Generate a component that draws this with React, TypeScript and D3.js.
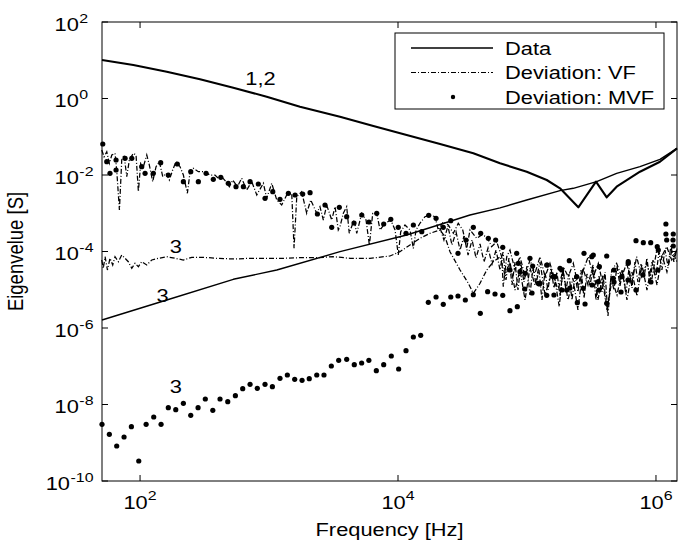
import * as d3 from 'd3';

// every pair is [log10 frequency (Hz), log10 eigenvalue (S)]
const data12: [number, number][] = [
  [1.705, 1.007], [1.948, 0.876], [2.207, 0.701], [2.465, 0.502], [2.723, 0.282],
  [2.982, 0.047], [3.24, -0.214], [3.55, -0.476], [3.809, -0.719], [4.067, -0.954],
  [4.326, -1.19], [4.584, -1.433], [4.791, -1.694], [4.998, -1.914], [5.153, -2.131],
  [5.256, -2.348], [5.398, -2.844], [5.535, -2.175], [5.618, -2.583], [5.695, -2.306],
  [5.876, -1.914], [6.031, -1.653], [6.163, -1.303],
];

const data3: [number, number][] = [
  [1.705, -5.791], [2.207, -5.268], [2.723, -4.727], [3.06, -4.484], [3.55, -4.005],
  [4.067, -3.569], [4.326, -3.294], [4.558, -3.046], [4.791, -2.858], [4.998, -2.654],
  [5.256, -2.41], [5.359, -2.348], [5.54, -2.175], [5.695, -1.956], [5.876, -1.783],
  [6.031, -1.59], [6.163, -1.303],
];

const vf12: [number, number][] = [
  [1.703, -1.346], [1.721, -1.522], [1.742, -1.391], [1.762, -1.694], [1.781, -1.477],
  [1.806, -1.433], [1.819, -1.869], [1.84, -2.915], [1.858, -1.608], [1.876, -1.477],
  [1.897, -2.044], [1.917, -1.608], [1.948, -1.433], [1.969, -1.477], [1.987, -2.437],
  [2.005, -1.694], [2.026, -1.783], [2.052, -1.477], [2.072, -1.739], [2.098, -2.175],
  [2.124, -1.783], [2.15, -1.652], [2.176, -2.044], [2.202, -1.956], [2.227, -2.131],
  [2.253, -1.869], [2.279, -1.652], [2.31, -1.783], [2.336, -2.0], [2.367, -2.478],
  [2.388, -1.914], [2.413, -1.825], [2.452, -1.914], [2.491, -1.914], [2.517, -1.956],
  [2.543, -2.0], [2.581, -2.0], [2.607, -2.086], [2.633, -2.044], [2.667, -2.175],
  [2.692, -2.306], [2.719, -2.131], [2.754, -2.306], [2.788, -2.086], [2.827, -2.392],
  [2.866, -2.175], [2.905, -2.523], [2.956, -2.217], [2.982, -2.609], [3.021, -2.217],
  [3.06, -2.654], [3.098, -2.784], [3.137, -2.523], [3.176, -2.478], [3.194, -3.916],
  [3.215, -2.567], [3.253, -2.437], [3.292, -3.001], [3.323, -2.654], [3.37, -3.001],
  [3.395, -2.829], [3.421, -3.177], [3.447, -2.784], [3.486, -3.177], [3.512, -2.829],
  [3.537, -3.438], [3.55, -3.352], [3.576, -3.001], [3.602, -2.829], [3.622, -3.524],
  [3.659, -3.177], [3.68, -3.524], [3.719, -3.001], [3.752, -3.177], [3.778, -3.83],
  [3.804, -3.001], [3.835, -3.001], [3.861, -3.438], [3.899, -3.263], [3.944, -3.177],
  [3.977, -3.438], [4.002, -4.091], [4.021, -3.482], [4.054, -3.307], [4.093, -3.438],
  [4.119, -3.916], [4.14, -3.438], [4.17, -3.263], [4.209, -3.09], [4.248, -3.046],
  [4.287, -3.09], [4.312, -3.438], [4.351, -3.221], [4.39, -3.307], [4.429, -3.524],
  [4.467, -3.263], [4.502, -3.438], [4.533, -3.916], [4.558, -3.438], [4.61, -3.655],
  [4.649, -3.569], [4.688, -3.613], [4.726, -3.874], [4.765, -3.744], [4.804, -4.136],
  [4.816, -4.92], [4.843, -4.136], [4.868, -3.961], [4.907, -4.484], [4.946, -4.136],
  [4.985, -4.659], [5.023, -4.222], [5.062, -4.57], [5.101, -4.136], [5.14, -4.659],
  [5.178, -4.309], [5.217, -4.745], [5.25, -5.443], [5.281, -4.397], [5.32, -4.659],
  [5.359, -4.309], [5.398, -4.92], [5.437, -4.484], [5.475, -4.136], [5.514, -4.659],
  [5.553, -4.309], [5.592, -4.92], [5.623, -5.574], [5.657, -4.484], [5.695, -4.309],
  [5.734, -4.659], [5.773, -4.309], [5.812, -4.831], [5.85, -4.136], [5.889, -4.659],
  [5.928, -4.309], [5.967, -4.745], [6.006, -3.961], [6.044, -4.136], [6.083, -3.874],
  [6.122, -4.222], [6.16, -3.961],
];

// second of the two large eigenvalues, where it parts from the first
const vf2: [number, number][] = [
  [4.326, -3.386], [4.356, -3.699], [4.387, -3.333], [4.418, -3.83], [4.45, -3.49],
  [4.481, -3.961], [4.512, -3.595], [4.543, -4.092], [4.574, -3.699], [4.605, -4.17],
  [4.636, -3.804], [4.667, -4.274], [4.698, -3.909], [4.729, -4.327], [4.76, -3.961],
  [4.791, -4.484], [4.814, -4.013], [4.837, -4.745], [4.86, -4.17], [4.884, -4.876],
  [4.907, -4.274], [4.93, -5.007], [4.953, -4.327], [4.977, -4.797], [5.0, -4.379],
  [5.023, -5.137], [5.046, -4.431], [5.07, -4.85], [5.093, -4.484], [5.116, -5.268],
  [5.139, -4.536], [5.163, -5.007], [5.186, -4.431], [5.209, -4.954], [5.232, -4.536],
  [5.256, -5.163], [5.279, -4.484], [5.302, -5.007], [5.325, -4.588], [5.349, -5.268],
  [5.372, -4.641], [5.395, -5.059], [5.419, -4.484], [5.442, -5.216], [5.465, -4.588],
  [5.488, -4.902], [5.512, -4.431], [5.535, -5.268], [5.558, -4.641], [5.581, -5.059],
  [5.605, -4.536], [5.628, -5.686], [5.651, -4.641], [5.674, -5.007], [5.698, -4.379],
  [5.721, -4.902], [5.744, -4.484], [5.767, -5.111], [5.791, -4.431], [5.814, -4.954],
  [5.837, -4.274], [5.86, -4.797], [5.884, -4.327], [5.907, -4.693], [5.93, -4.17],
  [5.953, -4.797], [5.977, -4.222], [6.0, -4.641], [6.023, -4.013], [6.046, -4.484],
  [6.07, -3.961], [6.093, -4.379], [6.116, -3.856], [6.139, -4.274], [6.163, -3.909],
];

const vf3: [number, number][] = [
  [1.703, -4.222], [1.715, -4.439], [1.729, -4.136], [1.747, -4.484], [1.767, -4.178],
  [1.788, -4.353], [1.806, -4.136], [1.832, -4.267], [1.858, -4.092], [1.884, -4.178],
  [1.909, -4.267], [1.936, -4.439], [1.961, -4.309], [1.987, -4.397], [2.013, -4.267],
  [2.052, -4.353], [2.091, -4.222], [2.142, -4.178], [2.207, -4.136], [2.271, -4.178],
  [2.336, -4.222], [2.401, -4.152], [2.491, -4.152], [2.595, -4.178], [2.723, -4.196],
  [2.853, -4.178], [2.982, -4.178], [3.111, -4.178], [3.24, -4.162], [3.37, -4.162],
  [3.498, -4.136], [3.628, -4.178], [3.783, -4.178], [3.938, -4.118], [4.015, -4.005],
  [4.093, -3.83], [4.17, -3.655], [4.248, -3.524], [4.326, -3.438], [4.364, -3.613],
  [4.403, -4.005], [4.481, -4.484], [4.545, -4.831], [4.584, -5.093], [4.636, -4.831],
  [4.688, -4.484], [4.739, -4.267], [4.791, -4.136], [4.829, -4.614], [4.868, -4.275],
  [4.907, -5.007], [4.946, -4.484], [4.985, -5.268], [5.023, -4.431], [5.062, -4.876],
  [5.101, -4.275], [5.14, -5.137], [5.194, -4.536], [5.241, -5.007], [5.279, -4.484],
  [5.318, -5.268], [5.356, -4.693], [5.395, -5.53], [5.434, -4.431], [5.473, -4.876],
  [5.512, -4.353], [5.55, -5.268], [5.589, -4.614], [5.62, -5.53], [5.659, -4.745],
  [5.698, -5.137], [5.737, -4.484], [5.775, -5.268], [5.814, -4.536], [5.853, -5.164],
  [5.892, -4.353], [5.93, -5.007], [5.969, -4.275], [6.008, -4.876], [6.047, -4.092],
  [6.085, -4.536], [6.124, -3.961], [6.163, -4.275],
];

const mvf12: [number, number][] = [
  [1.711, -1.19], [1.742, -1.652], [1.767, -1.956], [1.814, -1.608], [1.814, -1.869],
  [1.884, -1.563], [1.936, -1.563], [2.013, -1.783], [2.039, -1.956], [2.103, -1.956],
  [2.16, -1.679], [2.219, -2.0], [2.289, -1.713], [2.336, -2.175], [2.393, -1.914],
  [2.452, -2.175], [2.512, -1.956], [2.568, -2.113], [2.626, -2.06], [2.684, -2.217],
  [2.744, -2.306], [2.801, -2.306], [2.853, -2.175], [2.917, -2.235], [2.969, -2.609],
  [3.029, -2.437], [3.085, -2.636], [3.15, -2.478], [3.202, -2.523], [3.261, -2.497],
  [3.318, -2.463], [3.375, -3.019], [3.434, -2.784], [3.486, -3.367], [3.545, -2.844],
  [3.602, -3.09], [3.659, -3.255], [3.719, -3.046], [3.775, -3.229], [3.835, -3.001],
  [3.889, -3.281], [3.944, -3.158], [4.002, -3.367], [4.062, -3.524], [4.119, -3.307],
  [4.184, -3.482], [4.238, -3.054], [4.295, -3.132], [4.351, -3.367], [4.409, -3.195],
  [4.465, -4.047], [4.527, -3.699], [4.584, -3.367], [4.641, -3.524], [4.7, -3.655],
  [4.757, -3.699], [4.812, -3.891], [4.868, -4.484], [4.933, -4.309], [4.985, -4.57],
  [5.044, -4.379], [5.101, -4.831], [5.157, -4.353], [5.217, -4.659], [5.269, -4.484],
  [5.328, -4.241], [5.385, -4.659], [5.442, -4.047], [5.502, -4.136], [5.561, -4.397],
  [5.618, -4.118], [5.675, -4.484], [5.734, -4.659], [5.785, -4.309], [5.845, -3.717],
  [5.902, -3.77], [5.959, -3.77], [6.018, -3.961], [6.077, -3.543], [6.134, -3.543],
];

const mvf2: [number, number][] = [
  [4.92, -4.047], [5.023, -4.178], [5.153, -4.353], [5.256, -4.439], [4.946, -4.528],
  [5.087, -4.831], [5.204, -4.659], [5.308, -5.007], [5.436, -4.962], [5.553, -4.79],
  [5.669, -4.701], [5.514, -4.092], [5.785, -4.267], [6.01, -3.874], [6.083, -3.699],
  [6.134, -3.856],
];

const mvf3: [number, number][] = [
  [1.705, -8.518], [1.762, -8.779], [1.819, -9.085], [1.876, -8.85], [1.933, -8.58],
  [1.99, -9.477], [2.047, -8.518], [2.106, -8.327], [2.163, -8.518], [2.219, -8.084],
  [2.277, -8.136], [2.336, -7.969], [2.393, -8.283], [2.45, -8.084], [2.506, -7.856],
  [2.564, -8.152], [2.62, -7.856], [2.68, -7.927], [2.739, -7.77], [2.796, -7.587],
  [2.853, -7.472], [2.909, -7.576], [2.969, -7.472], [3.026, -7.535], [3.085, -7.315],
  [3.142, -7.229], [3.199, -7.341], [3.256, -7.367], [3.312, -7.325], [3.37, -7.229],
  [3.426, -7.229], [3.483, -6.993], [3.54, -6.845], [3.602, -6.818], [3.661, -6.959],
  [3.718, -6.915], [3.774, -6.845], [3.832, -7.116], [3.889, -6.959], [3.948, -6.732],
  [4.005, -7.072], [4.062, -6.593], [4.119, -6.235], [4.176, -6.191], [4.235, -5.328],
  [4.295, -5.19], [4.351, -5.381], [4.409, -5.19], [4.465, -5.163], [4.522, -5.268],
  [4.584, -5.129], [4.638, -5.616], [4.695, -5.051], [4.752, -5.111], [4.812, -5.145],
  [4.868, -5.548], [4.925, -5.443], [4.982, -4.981], [5.039, -5.085], [5.095, -4.85],
  [5.153, -5.145], [5.209, -5.137], [5.271, -5.007], [5.333, -4.955], [5.39, -5.339],
  [5.45, -5.373], [5.504, -4.876], [5.558, -5.007], [5.618, -5.355], [5.675, -4.797],
  [5.729, -5.059], [5.783, -4.745], [5.845, -5.007], [5.899, -4.614], [5.961, -4.797],
  [6.015, -4.484], [6.077, -3.281], [6.132, -3.699],
];

const xTickExps = [2, 4, 6];
const yTickExps = [2, 0, -2, -4, -6, -8, -10];
const legendLabels = ['Data', 'Deviation: VF', 'Deviation: MVF'];
// text, log10 frequency, log10 eigenvalue of the label baseline
const curveLabels: [string, number, number][] = [
  ['1,2', 2.934, 0.353],
  ['3', 2.278, -4.047],
  ['3', 2.174, -5.312],
  ['3', 2.278, -7.708],
];

const width = 679;
const height = 546;
const margin = { top: 22, right: 2, bottom: 65, left: 102 };
const SX = 1.18; // glyphs in the source are a bit wider than tall
const font = "'Liberation Sans', Arial, Helvetica, sans-serif";
const dashDot = '5,2,1,2';
const dotR = 2.6;

function Txt({ x, y, size = 18.5, anchor = 'start', rotate = 0, children }: any) {
  const t = `translate(${x},${y}) scale(${SX},1)` + (rotate ? ` rotate(${rotate})` : '');
  return (
    <text transform={t} fontSize={size} textAnchor={anchor} fill="#000">
      {children}
    </text>
  );
}

export default function App() {
  const x = d3.scaleLog().domain([10 ** 1.705, 10 ** 6.163]).range([margin.left, width - margin.right]);
  const y = d3.scaleLog().domain([1e-10, 1e2]).range([height - margin.bottom, margin.top]);
  const px = (d: [number, number]) => x(10 ** d[0]);
  const py = (d: [number, number]) => y(10 ** d[1]);
  const line = d3.line<[number, number]>().x(px).y(py);

  const x0 = margin.left;
  const x1 = width - margin.right;
  const y0 = margin.top;
  const y1 = height - margin.bottom;
  const tick = 6;

  const expW = (e: number) => (0.333 + String(Math.abs(e)).length * 0.556) * 13.5 * SX;

  return (
    <svg
      width={width}
      height={height}
      style={{ position: 'absolute', left: 0, top: 0, background: '#fff', fontFamily: font }}
    >
      <rect x={0} y={0} width={width} height={height} fill="#fff" />

      {/* curves */}
      {[vf12, vf2, vf3].map((s, i) => (
        <path key={i} d={line(s) ?? ''} fill="none" stroke="#000" strokeWidth={1.25} strokeDasharray={dashDot} />
      ))}
      <path d={line(data3) ?? ''} fill="none" stroke="#000" strokeWidth={1.4} strokeLinejoin="round" />
      <path d={line(data12) ?? ''} fill="none" stroke="#000" strokeWidth={2.1} strokeLinejoin="round" />
      {[...mvf12, ...mvf2, ...mvf3].map((d, i) => (
        <circle key={i} cx={px(d)} cy={py(d)} r={dotR} fill="#000" />
      ))}

      {curveLabels.map(([t, lf, lv], i) => (
        <Txt key={i} x={x(10 ** lf)} y={y(10 ** lv)} anchor="middle">{t}</Txt>
      ))}

      {/* frame and ticks */}
      <rect x={x0} y={y0} width={x1 - x0} height={y1 - y0} fill="none" stroke="#000" strokeWidth={1} />
      {xTickExps.map((e) => {
        const tx = x(10 ** e);
        return (
          <g key={e}>
            <line x1={tx} x2={tx} y1={y1} y2={y1 - tick} stroke="#000" />
            <line x1={tx} x2={tx} y1={y0} y2={y0 + tick} stroke="#000" />
            <Txt x={tx} y={y1 + 28} anchor="middle">
              10<tspan dy={-9} fontSize={13.5}>{e}</tspan>
            </Txt>
          </g>
        );
      })}
      {yTickExps.map((e) => {
        const ty = y(10 ** e);
        const baseEnd = 93 - expW(e);
        return (
          <g key={e}>
            <line x1={x0} x2={x0 + tick} y1={ty} y2={ty} stroke="#000" />
            <line x1={x1} x2={x1 - tick} y1={ty} y2={ty} stroke="#000" />
            <Txt x={baseEnd} y={ty + 8.5} anchor="end">10</Txt>
            <Txt x={baseEnd + 0.5} y={ty + 0.5} size={13.5}>{String(e)}</Txt>
          </g>
        );
      })}

      <Txt x={(x0 + x1) / 2} y={536} anchor="middle">Frequency [Hz]</Txt>
      <Txt x={23} y={(y0 + y1) / 2} anchor="middle" rotate={-90}>Eigenvelue [S]</Txt>

      {/* legend */}
      <g>
        <rect x={395} y={33} width={269} height={76} fill="#fff" stroke="#000" strokeWidth={1} />
        <line x1={411} x2={493} y1={48} y2={48} stroke="#000" strokeWidth={1.5} />
        <line x1={411} x2={493} y1={72.5} y2={72.5} stroke="#000" strokeWidth={1} strokeDasharray={dashDot} />
        <circle cx={453} cy={97} r={2.2} fill="#000" />
        {legendLabels.map((t, i) => (
          <Txt key={t} x={505} y={54.6 + i * 24.5}>{t}</Txt>
        ))}
      </g>
    </svg>
  );
}
